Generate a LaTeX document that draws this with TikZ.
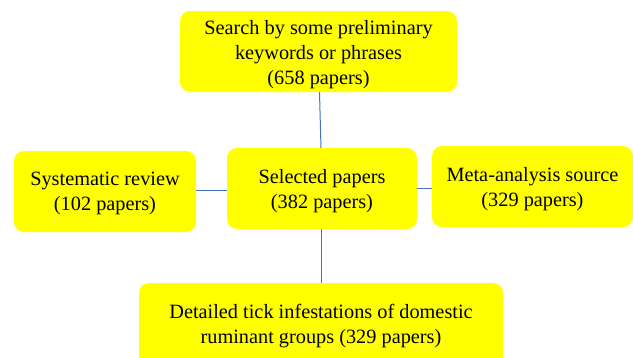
\documentclass[tikz,border=0pt]{standalone}
\usepackage{fontspec}
\setmainfont{Liberation Serif}
\newfontfamily\boxfont{Liberation Serif}
\definecolor{boxyellow}{HTML}{FFFF00}
\definecolor{linkblue}{HTML}{4472C4}
\begin{document}
\begin{tikzpicture}[x=1pt,y=-1pt,
  box/.style={fill=boxyellow, rounded corners=10pt, inner sep=0pt},
  boxtext/.style={align=center, inner sep=0pt,
    font=\boxfont\fontsize{20.3}{25}\selectfont},
  link/.style={draw=linkblue, line width=1pt}]
\useasboundingbox (0,0) rectangle (633,357);
\clip (0,0) rectangle (633,357);
\fill[white] (0,0) rectangle (633,357);
\node[box, minimum width=277pt, minimum height=81pt] (top) at (318.5,51.5) {};
\node[boxtext] (toptext) at ([yshift=-3.5pt]top.center)
  {Search by some preliminary\\keywords or phrases\\(658 papers)};
\node[box, minimum width=182pt, minimum height=81pt] (left) at (105,191.5) {};
\node[boxtext] (lefttext) at ([yshift=-1.5pt]left.center)
  {Systematic review\\(102 papers)};
\node[box, minimum width=190pt, minimum height=81pt] (mid) at (322,188.5) {};
\node[boxtext] (midtext) at ([yshift=-3pt]mid.center)
  {Selected papers\\(382 papers)};
\node[box, minimum width=201pt, minimum height=81pt] (right) at (532.5,186.5) {};
\node[boxtext] (righttext) at ([yshift=-3pt]right.center)
  {Meta-analysis source\\(329 papers)};
\node[box, minimum width=364pt, minimum height=90pt] (bot) at (321,328) {};
\node[boxtext] (bottext) at (321,326)
  {Detailed tick infestations of domestic\\ruminant groups (329 papers)};
\coordinate (tb) at (319.5,92);
\coordinate (mt) at (321,148);
\draw[link] (tb) -- (mt);
\draw[link] (mid.south -| 321,0) -- (bot.north -| 321,0);
\draw[link] (left.east |- 0,190) -- (mid.west |- 0,190);
\draw[link] (mid.east |- 0,188) -- (right.west |- 0,188);
\end{tikzpicture}
\end{document}
